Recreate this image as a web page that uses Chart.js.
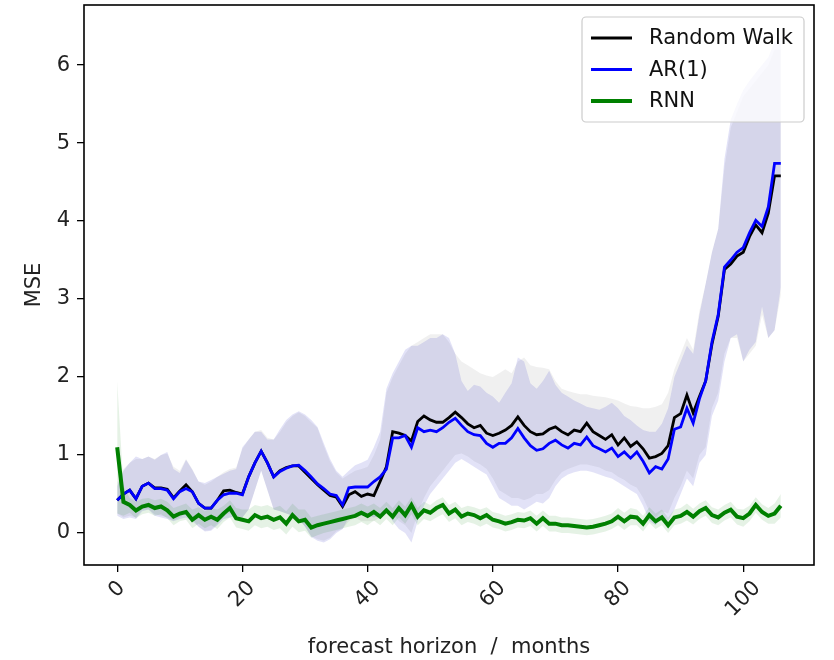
<!DOCTYPE html>
<html>
<head>
<meta charset="utf-8">
<script src="https://cdn.jsdelivr.net/npm/chart.js@4.4.1/dist/chart.umd.min.js"></script>
<style>
  html, body { margin: 0; padding: 0; background: #fff; }
  #wrap { width: 834px; height: 660px; }
</style>
</head>
<body>
<div id="wrap"><canvas id="mse" width="834" height="660"></canvas></div>
<script>
// forecast horizon (months)
var horizon = [
  0,1,2,3,4,5,6,7,8,9,10,11,12,13,14,15,16,17,18,19,20,
  21,22,23,24,25,26,27,28,29,30,31,32,33,34,35,36,37,38,39,40,
  41,42,43,44,45,46,47,48,49,50,51,52,53,54,55,56,57,58,59,60,
  61,62,63,64,65,66,67,68,69,70,71,72,73,74,75,76,77,78,79,80,
  81,82,83,84,85,86,87,88,89,90,91,92,93,94,95,96,97,98,99,100,
  101,102,103,104,105,106
];

var randomWalk = [
  0.42,0.50,0.55,0.44,0.60,0.64,0.58,0.58,0.56,0.45,0.54,0.62,0.53,0.38,0.32,0.32,0.42,0.54,0.55,0.52,0.50,
  0.72,0.90,1.05,0.90,0.72,0.80,0.84,0.86,0.86,0.78,0.70,0.62,0.55,0.48,0.46,0.34,0.49,0.53,0.47,0.50,
  0.48,0.66,0.85,1.30,1.28,1.25,1.18,1.43,1.50,1.45,1.42,1.42,1.48,1.55,1.48,1.40,1.35,1.38,1.28,1.25,
  1.28,1.32,1.38,1.49,1.38,1.30,1.26,1.27,1.33,1.36,1.30,1.26,1.32,1.30,1.41,1.30,1.25,1.20,1.26,1.13,
  1.22,1.11,1.17,1.08,0.96,0.98,1.02,1.12,1.48,1.53,1.77,1.54,1.75,1.95,2.42,2.78,3.38,3.45,3.55,3.60,
  3.80,3.95,3.85,4.10,4.58,4.58
];
var rwLow = [
  0.25,0.20,0.22,0.20,0.30,0.30,0.24,0.22,0.20,0.16,0.20,0.25,0.18,0.08,0.03,0.04,0.12,0.22,0.25,0.22,0.20,
  0.30,0.55,0.80,0.55,0.30,0.28,0.25,0.22,0.18,0.08,-0.04,-0.08,-0.10,-0.06,0.02,0.05,0.15,0.20,0.15,0.15,
  0.15,0.20,0.35,0.25,0.15,0.10,0.00,0.25,0.45,0.60,0.70,0.80,0.90,1.00,1.02,0.98,0.92,0.88,0.82,0.70,
  0.55,0.50,0.45,0.45,0.42,0.45,0.50,0.50,0.55,0.68,0.78,0.82,0.85,0.88,0.88,0.86,0.84,0.80,0.78,0.72,
  0.68,0.62,0.58,0.45,0.28,0.20,0.28,0.25,0.45,0.60,0.80,0.70,1.00,1.10,1.60,1.80,2.30,2.50,2.50,2.20,
  2.30,2.40,2.80,2.50,2.60,3.05
];
var rwHigh = [
  0.65,0.82,0.90,0.95,0.95,0.98,0.95,1.00,1.02,0.85,0.80,0.95,0.82,0.66,0.62,0.66,0.72,0.78,0.82,0.84,1.08,
  1.20,1.30,1.32,1.22,1.20,1.30,1.42,1.50,1.55,1.50,1.42,1.35,1.12,0.92,0.78,0.70,0.75,0.80,0.82,0.85,
  1.00,1.20,1.80,2.00,2.15,2.30,2.40,2.45,2.50,2.55,2.55,2.55,2.45,2.30,2.20,2.15,2.10,2.05,2.02,2.00,
  2.05,2.10,2.05,2.20,2.25,2.15,2.13,2.12,2.10,1.95,1.85,1.82,1.80,1.78,1.78,1.76,1.75,1.74,1.72,1.70,
  1.66,1.63,1.62,1.60,1.60,1.62,1.65,1.80,2.10,2.30,2.50,2.35,2.85,3.20,3.60,3.90,4.70,5.20,5.40,5.60,
  5.70,5.80,5.90,6.00,6.20,6.20
];

var ar1 = [
  0.42,0.50,0.55,0.44,0.60,0.64,0.57,0.57,0.55,0.44,0.53,0.57,0.53,0.38,0.32,0.32,0.42,0.49,0.51,0.51,0.49,
  0.72,0.90,1.05,0.90,0.72,0.79,0.83,0.86,0.87,0.80,0.72,0.63,0.57,0.50,0.48,0.36,0.58,0.59,0.59,0.59,
  0.66,0.72,0.82,1.22,1.22,1.25,1.10,1.35,1.30,1.32,1.30,1.35,1.42,1.47,1.38,1.30,1.26,1.25,1.15,1.10,
  1.15,1.15,1.22,1.34,1.22,1.12,1.06,1.08,1.15,1.19,1.13,1.09,1.15,1.13,1.23,1.12,1.08,1.04,1.09,0.98,
  1.04,0.96,1.04,0.92,0.77,0.85,0.82,0.95,1.33,1.36,1.60,1.41,1.72,1.95,2.45,2.80,3.41,3.50,3.60,3.66,
  3.85,4.01,3.93,4.18,4.74,4.74
];
var arLow = [
  0.22,0.18,0.20,0.18,0.28,0.30,0.22,0.20,0.18,0.15,0.18,0.20,0.15,0.08,0.02,0.03,0.10,0.18,0.20,0.22,0.20,
  0.30,0.55,0.80,0.55,0.30,0.28,0.25,0.22,0.18,0.08,-0.05,-0.10,-0.12,-0.08,0.00,0.05,0.20,0.25,0.22,0.22,
  0.20,0.22,0.30,0.15,0.05,0.00,-0.12,0.15,0.35,0.50,0.60,0.70,0.80,0.90,0.95,0.90,0.85,0.80,0.75,0.60,
  0.45,0.40,0.35,0.35,0.30,0.35,0.40,0.38,0.45,0.60,0.70,0.75,0.78,0.80,0.80,0.78,0.75,0.72,0.70,0.65,
  0.60,0.55,0.50,0.35,0.15,0.10,0.20,0.15,0.30,0.50,0.70,0.60,0.90,1.00,1.50,1.70,2.20,2.50,2.55,2.20,
  2.35,2.45,2.90,2.50,2.60,3.15
];
var arHigh = [
  0.60,0.80,0.90,0.98,0.95,0.98,0.94,1.00,1.04,0.82,0.77,0.94,0.81,0.66,0.64,0.68,0.72,0.76,0.80,0.82,1.10,
  1.20,1.30,1.30,1.20,1.20,1.33,1.45,1.52,1.56,1.52,1.45,1.36,1.15,0.95,0.80,0.72,0.80,0.87,0.90,0.94,
  1.10,1.30,1.85,2.05,2.20,2.35,2.40,2.40,2.45,2.50,2.50,2.55,2.50,2.30,1.95,1.82,1.90,1.88,1.80,1.75,
  1.67,1.80,1.92,2.25,2.20,1.92,1.85,1.95,2.08,1.90,1.80,1.75,1.70,1.66,1.62,1.60,1.58,1.62,1.67,1.60,
  1.50,1.45,1.38,1.32,1.30,1.30,1.40,1.60,2.00,2.20,2.40,2.30,2.80,3.20,3.60,3.90,4.80,5.30,5.50,5.68,
  5.80,5.90,6.00,6.10,6.30,6.35
];

var rnn = [
  1.10,0.40,0.36,0.29,0.34,0.36,0.32,0.34,0.29,0.21,0.25,0.27,0.17,0.23,0.17,0.21,0.17,0.25,0.32,0.19,0.17,
  0.15,0.23,0.19,0.21,0.17,0.20,0.12,0.23,0.15,0.17,0.07,0.10,0.12,0.14,0.16,0.18,0.20,0.22,0.26,0.22,
  0.27,0.21,0.29,0.21,0.32,0.23,0.36,0.21,0.29,0.26,0.32,0.36,0.25,0.30,0.21,0.25,0.23,0.19,0.23,0.17,
  0.15,0.12,0.14,0.17,0.16,0.19,0.12,0.19,0.12,0.12,0.10,0.10,0.09,0.08,0.07,0.08,0.10,0.12,0.15,0.21,
  0.15,0.21,0.20,0.12,0.23,0.15,0.20,0.10,0.20,0.22,0.27,0.21,0.28,0.32,0.23,0.20,0.26,0.30,0.21,0.19,
  0.25,0.36,0.27,0.22,0.25,0.35
];
var rnnLow = [
  0.25,0.22,0.26,0.19,0.24,0.26,0.22,0.24,0.19,0.10,0.15,0.17,0.06,0.12,0.06,0.10,0.05,0.14,0.20,0.07,0.05,
  0.03,0.10,0.06,0.08,0.04,0.06,-0.02,0.08,0.01,0.03,-0.06,-0.03,0.00,0.02,0.04,0.06,0.08,0.10,0.14,0.10,
  0.16,0.10,0.18,0.10,0.20,0.12,0.24,0.10,0.18,0.15,0.20,0.24,0.14,0.19,0.10,0.14,0.12,0.08,0.12,0.07,
  0.05,0.02,0.04,0.07,0.06,0.09,0.02,0.09,0.02,0.02,0.00,0.00,-0.01,-0.02,-0.03,-0.02,0.00,0.02,0.05,0.10,
  0.04,0.10,0.10,0.02,0.13,0.05,0.10,0.00,0.10,0.12,0.16,0.11,0.18,0.22,0.13,0.10,0.16,0.20,0.11,0.08,
  0.15,0.26,0.17,0.12,0.12,0.20
];
var rnnHigh = [
  1.95,0.60,0.45,0.40,0.44,0.45,0.42,0.44,0.40,0.32,0.35,0.38,0.30,0.33,0.28,0.32,0.30,0.35,0.42,0.32,0.30,
  0.30,0.36,0.34,0.36,0.32,0.35,0.28,0.38,0.30,0.30,0.20,0.22,0.24,0.26,0.28,0.30,0.32,0.34,0.38,0.34,
  0.38,0.32,0.40,0.32,0.42,0.34,0.46,0.32,0.40,0.36,0.42,0.46,0.36,0.40,0.32,0.35,0.33,0.30,0.33,0.27,
  0.25,0.22,0.24,0.27,0.26,0.29,0.22,0.29,0.22,0.22,0.20,0.20,0.19,0.18,0.17,0.18,0.20,0.22,0.25,0.32,
  0.26,0.32,0.30,0.22,0.33,0.25,0.30,0.20,0.30,0.32,0.38,0.31,0.38,0.42,0.33,0.30,0.36,0.40,0.31,0.30,
  0.35,0.46,0.37,0.32,0.38,0.50
];

var xTicks = [0, 20, 40, 60, 80, 100];
var yTicks = [0, 1, 2, 3, 4, 5, 6];

var FONT = 'DejaVu Sans';

function pts(arr) {
  return horizon.map(function(h, i) { return {x: h, y: arr[i]}; });
}

function band(arr, target, color, order) {
  var ds = {
    data: pts(arr),
    borderWidth: 0,
    borderColor: 'rgba(0,0,0,0)',
    pointRadius: 0,
    tension: 0,
    order: order,
    fill: false
  };
  if (target !== null) {
    ds.fill = {target: target};
    ds.backgroundColor = color;
  }
  return ds;
}

var legendItems = [
  {label: 'Random Walk', color: '#000000', width: 2.8},
  {label: 'AR(1)', color: '#0000ff', width: 2.8},
  {label: 'RNN', color: '#008000', width: 4}
];

var framePlugin = {
  id: 'frame',
  afterDatasetsDraw: function(chart) {
    var ctx = chart.ctx, a = chart.chartArea;
    ctx.save();
    ctx.strokeStyle = '#000';
    ctx.lineWidth = 1.6;
    ctx.strokeRect(a.left, a.top, a.right - a.left, a.bottom - a.top);
    ctx.restore();
  },
  afterDraw: function(chart) {
    var ctx = chart.ctx, a = chart.chartArea;
    var xs = chart.scales.x;
    ctx.save();
    // rotated x tick labels, centred under each tick like matplotlib
    ctx.font = '21px "' + FONT + '"';
    ctx.fillStyle = '#222';
    ctx.textAlign = 'center';
    ctx.textBaseline = 'middle';
    xs.ticks.forEach(function(t) {
      var s = String(t.value);
      var w = ctx.measureText(s).width;
      var ext = (w + 17) * Math.SQRT1_2;
      var px = xs.getPixelForValue(t.value);
      ctx.save();
      ctx.translate(px, a.bottom + 14 + ext / 2);
      ctx.rotate(-Math.PI / 4);
      ctx.fillText(s, 0, 0);
      ctx.restore();
    });

    // legend box
    var bx = 582, by = 17, bw = 222, bh = 105;
    ctx.fillStyle = 'rgba(255,255,255,0.8)';
    ctx.strokeStyle = '#cccccc';
    ctx.lineWidth = 1.2;
    ctx.beginPath();
    ctx.roundRect(bx, by, bw, bh, 4);
    ctx.fill();
    ctx.stroke();
    ctx.textAlign = 'left';
    ctx.textBaseline = 'middle';
    var rows = [38, 69.5, 101];
    legendItems.forEach(function(it, i) {
      ctx.strokeStyle = it.color;
      ctx.lineWidth = it.width;
      ctx.beginPath();
      ctx.moveTo(591, rows[i]);
      ctx.lineTo(632, rows[i]);
      ctx.stroke();
      ctx.fillStyle = '#111';
      ctx.fillText(it.label, 649, rows[i] + 1);
    });
    ctx.restore();
  }
};

var datasets = [
  {label: 'RNN', data: pts(rnn), borderColor: '#008000', borderWidth: 4, pointRadius: 0, tension: 0, fill: false, order: 0},
  {label: 'AR(1)', data: pts(ar1), borderColor: '#0000ff', borderWidth: 2.8, pointRadius: 0, tension: 0, fill: false, order: 1},
  {label: 'Random Walk', data: pts(randomWalk), borderColor: '#000000', borderWidth: 2.8, pointRadius: 0, tension: 0, fill: false, order: 2},
  band(rnnLow, null, null, 3),
  band(rnnHigh, 3, 'rgba(0,128,0,0.1)', 3),
  band(arLow, null, null, 4),
  band(arHigh, 5, 'rgba(30,30,190,0.13)', 4),
  band(rwLow, null, null, 5),
  band(rwHigh, 7, 'rgba(0,0,0,0.06)', 5)
];

new Chart(document.getElementById('mse'), {
  type: 'line',
  data: {datasets: datasets},
  plugins: [framePlugin],
  options: {
    responsive: false,
    animation: false,
    devicePixelRatio: 1,
    layout: {padding: {left: 22, right: 20, top: 5, bottom: 0}},
    plugins: {
      legend: {display: false},
      tooltip: {enabled: false}
    },
    scales: {
      x: {
        type: 'linear',
        min: -5.3,
        max: 111.3,
        afterFit: function(s) { s.height = 95; s.paddingLeft = 0; s.paddingRight = 0; },
        afterBuildTicks: function(s) { s.ticks = xTicks.map(function(v) { return {value: v}; }); },
        grid: {display: true, drawOnChartArea: false, drawTicks: true, tickLength: 7, color: '#000', lineWidth: 1.3},
        border: {display: false},
        ticks: {color: 'rgba(0,0,0,0)', maxRotation: 0, font: {family: FONT, size: 21}},
        title: {display: true, text: 'forecast horizon  /  months', color: '#222', font: {family: FONT, size: 21}, padding: {top: 0, bottom: 0}}
      },
      y: {
        min: -0.41,
        max: 6.77,
        afterFit: function(s) { s.width = 84 - 22; s.paddingTop = 0; s.paddingBottom = 0; },
        afterBuildTicks: function(s) { s.ticks = yTicks.map(function(v) { return {value: v}; }); },
        grid: {display: true, drawOnChartArea: false, drawTicks: true, tickLength: 7, color: '#000', lineWidth: 1.3},
        border: {display: false},
        ticks: {color: '#222', padding: 7, font: {family: FONT, size: 21}},
        title: {display: true, text: 'MSE', color: '#222', font: {family: FONT, size: 21}, padding: {top: 0, bottom: 0}}
      }
    }
  }
});
</script>
</body>
</html>
